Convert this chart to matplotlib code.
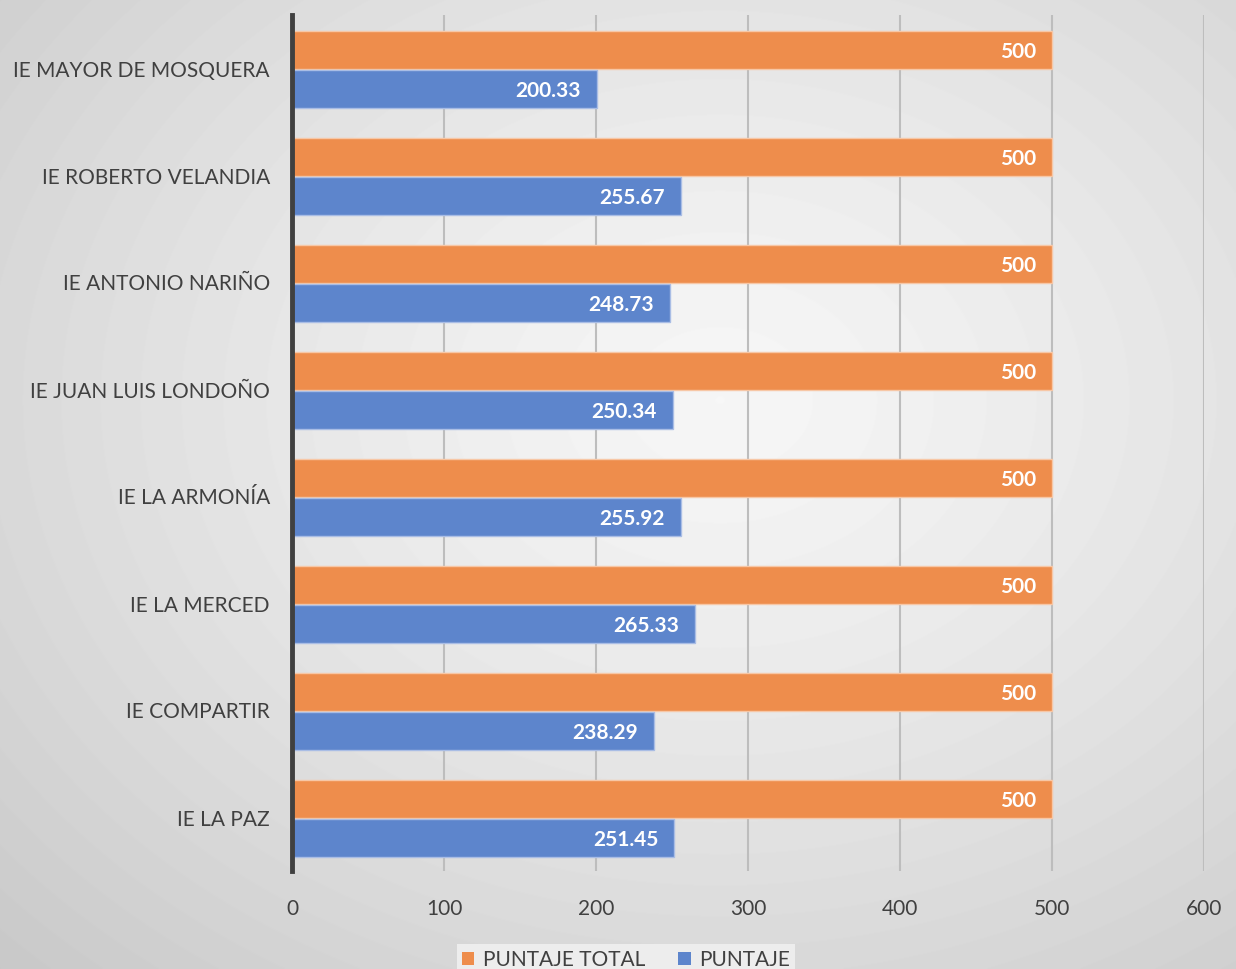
import numpy as np
import matplotlib
matplotlib.use("Agg")
import matplotlib.pyplot as plt
from matplotlib.patches import Patch

categories = ["IE MAYOR DE MOSQUERA", "IE ROBERTO VELANDIA", "IE ANTONIO NARIÑO",
              "IE JUAN LUIS LONDOÑO", "IE LA ARMONÍA", "IE LA MERCED",
              "IE COMPARTIR", "IE LA PAZ"]
puntaje_total = [500, 500, 500, 500, 500, 500, 500, 500]
puntaje = [200.33, 255.67, 248.73, 250.34, 255.92, 265.33, 238.29, 251.45]
xticks = [0, 100, 200, 300, 400, 500, 600]

orange = "#EE8D4C"
blue = "#5D85CC"
font = ["Lato", "DejaVu Sans"]
plt.rcParams["font.family"] = font

W, H = 1236, 969
fig = plt.figure(figsize=(W / 100, H / 100), dpi=100)

# radial gradient background
bg = fig.add_axes([0, 0, 1, 1], zorder=-10)
yy, xx = np.mgrid[0:H, 0:W]
cx, cy = 720, 400
r = np.sqrt(((xx - cx) / W) ** 2 + ((yy - cy) / H) ** 2)
r = r / r.max()
val = 0.965 - 0.18 * r ** 1.3
bg.imshow(val, cmap="gray", vmin=0, vmax=1, aspect="auto", extent=[0, 1, 0, 1], origin="upper")
bg.axis("off")

ax = fig.add_axes([292 / W, 1 - 871 / H, (1204 - 292) / W, (871 - 15) / H])
ax.set_facecolor("none")

y = np.arange(len(categories))
h = 0.355
off = 0.186
ax.barh(y - off + 0.01, puntaje_total, height=h, color=orange, edgecolor="#F7C7A6", linewidth=1, zorder=3)
ax.barh(y + off + 0.01, puntaje, height=h, color=blue, edgecolor="#A9BDE5", linewidth=1, zorder=3)

for yi, v in zip(y, puntaje_total):
    ax.text(v - 10.5, yi - off + 0.01, f"{v:g}", ha="right", va="center_baseline", color="white",
            fontsize=15, fontweight="bold", zorder=4)
for yi, v in zip(y, puntaje):
    ax.text(v - 10.5, yi + off + 0.01, f"{v:.2f}", ha="right", va="center_baseline", color="white",
            fontsize=15, fontweight="bold", zorder=4)

ax.set_xlim(0, 600)
ax.set_ylim(len(categories) - 0.5, -0.5)
ax.set_xticks(xticks)
ax.set_xticklabels([str(t) for t in xticks])
ax.set_yticks(y)
ax.set_yticklabels(categories)
ax.tick_params(axis="both", length=0, labelsize=15, labelcolor="#404040")
ax.tick_params(axis="x", pad=20)
ax.tick_params(axis="y", pad=16)
ax.xaxis.grid(True, color="#BDBDBD", linewidth=1.5, zorder=0)
ax.set_axisbelow(True)
for s in ["top", "right", "bottom"]:
    ax.spines[s].set_visible(False)
ax.spines["left"].set_color("#404040")
ax.spines["left"].set_linewidth(3.5)
ax.spines["left"].set_zorder(5)

handles = [Patch(facecolor=orange, label="PUNTAJE TOTAL"), Patch(facecolor=blue, label="PUNTAJE")]
leg = fig.legend(handles=handles, loc="upper center", bbox_to_anchor=(626 / W, 1 - 934 / H),
                 ncol=2, frameon=True, fontsize=15, handlelength=0.6, handleheight=0.6,
                 handletextpad=0.4, columnspacing=1.6, borderpad=0.25, fancybox=False)
leg.get_frame().set_facecolor("#EDEDED")
leg.get_frame().set_edgecolor("none")
leg.get_frame().set_alpha(1)
for t in leg.get_texts():
    t.set_color("#404040")

fig.savefig("out.png", dpi=100)
